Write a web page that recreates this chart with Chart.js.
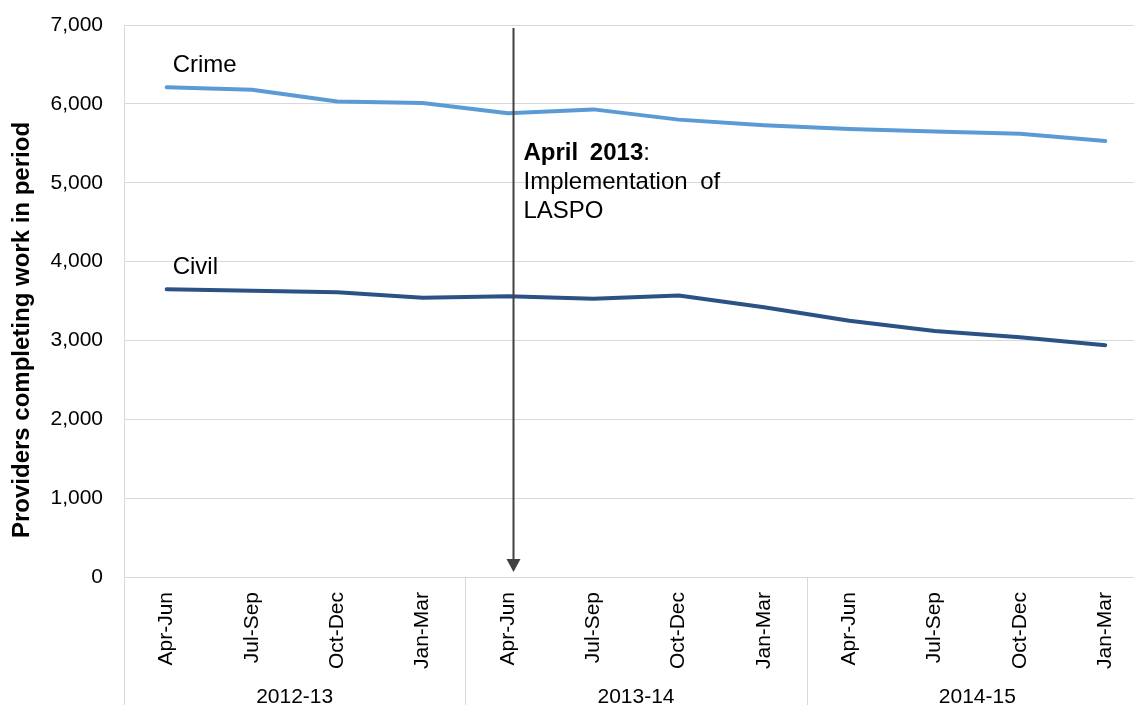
<!DOCTYPE html>
<html>
<head>
<meta charset="utf-8">
<title>Providers completing work in period</title>
<script src="https://cdn.jsdelivr.net/npm/chart.js@4/dist/chart.umd.min.js"></script>
<style>
  html, body { margin: 0; padding: 0; background: #ffffff; overflow: hidden; }
  #wrap { position: absolute; left: 0; top: 0; width: 1150px; height: 705px; }
</style>
</head>
<body>
<div id="wrap"><canvas id="chart" width="1150" height="705"></canvas></div>
<script>
// Quarterly periods, grouped by financial year
const quarters = ['Apr-Jun', 'Jul-Sep', 'Oct-Dec', 'Jan-Mar',
                  'Apr-Jun', 'Jul-Sep', 'Oct-Dec', 'Jan-Mar',
                  'Apr-Jun', 'Jul-Sep', 'Oct-Dec', 'Jan-Mar'];
const years = ['2012-13', '2013-14', '2014-15'];
const quartersPerYear = 4;

// Number of providers completing work in each period
const crime = [6210, 6180, 6030, 6010, 5880, 5930, 5800, 5730, 5680, 5650, 5620, 5530];
const civil = [3650, 3630, 3610, 3540, 3560, 3530, 3570, 3420, 3250, 3120, 3040, 2940];

// Value axis
const yMin = 0;
const yMax = 7000;
const yStep = 1000;

// Policy change marker
const eventIndex = 4;
const eventTitle = ['April', '2013'];
const eventLines = [['Implementation', 'of'], ['LASPO']];

const FONT = '"Liberation Sans", Arial, sans-serif';
const GRID = '#d9d9d9';
const CRIME_COLOR = '#5b9bd5';
const CIVIL_COLOR = '#2c5285';

function drawWords(ctx, words, x, y, extra) {
  let cx = x;
  const space = ctx.measureText(' ').width + extra;
  words.forEach((w, i) => {
    ctx.fillText(w, cx, y);
    cx += ctx.measureText(w).width + (i < words.length - 1 ? space : 0);
  });
  return cx;
}

const decorations = {
  id: 'decorations',
  afterDraw(chart) {
    const ctx = chart.ctx;
    const area = chart.chartArea;
    const xs = chart.scales.x;
    const H = chart.height;
    ctx.save();

    // frame line on the left and year separators below the axis
    ctx.strokeStyle = GRID;
    ctx.lineWidth = 1;
    ctx.beginPath();
    ctx.moveTo(Math.round(area.left) + 0.5, area.top);
    ctx.lineTo(Math.round(area.left) + 0.5, H);
    for (let g = 1; g < years.length; g++) {
      const i = g * quartersPerYear;
      const sx = Math.round((xs.getPixelForValue(i - 1) + xs.getPixelForValue(i)) / 2) + 0.5;
      ctx.moveTo(sx, area.bottom);
      ctx.lineTo(sx, H);
    }
    ctx.stroke();

    // financial year labels
    ctx.fillStyle = '#000';
    ctx.font = '21px ' + FONT;
    ctx.textAlign = 'center';
    ctx.textBaseline = 'middle';
    years.forEach((yr, g) => {
      const a = xs.getPixelForValue(g * quartersPerYear);
      const b = xs.getPixelForValue(g * quartersPerYear + quartersPerYear - 1);
      ctx.fillText(yr, (a + b) / 2, H - 8);
    });

    // value axis title
    ctx.save();
    ctx.translate(22, (area.top + area.bottom) / 2 + 29);
    ctx.rotate(-Math.PI / 2);
    ctx.font = 'bold 24px ' + FONT;
    ctx.textAlign = 'center';
    ctx.textBaseline = 'middle';
    ctx.fillText('Providers completing work in period', 0, 0);
    ctx.restore();

    // event arrow
    const ax = Math.round(xs.getPixelForValue(eventIndex)) + 5.5;
    const tip = area.bottom - 5;
    ctx.strokeStyle = '#404040';
    ctx.fillStyle = '#404040';
    ctx.lineWidth = 2;
    ctx.beginPath();
    ctx.moveTo(ax, area.top + 3);
    ctx.lineTo(ax, tip - 10);
    ctx.stroke();
    ctx.beginPath();
    ctx.moveTo(ax - 7, tip - 13);
    ctx.lineTo(ax + 7, tip - 13);
    ctx.lineTo(ax, tip);
    ctx.closePath();
    ctx.fill();

    // event text
    ctx.fillStyle = '#000';
    ctx.textAlign = 'left';
    ctx.textBaseline = 'alphabetic';
    const tx = ax + 10;
    ctx.font = 'bold 24px ' + FONT;
    const end = drawWords(ctx, eventTitle, tx, 160, 5);
    ctx.font = '24px ' + FONT;
    ctx.fillText(':', end, 160);
    eventLines.forEach((words, i) => drawWords(ctx, words, tx, 189 + i * 29, 6));

    // series names beside the first point of each line
    ctx.font = '24px ' + FONT;
    chart.data.datasets.forEach((ds, di) => {
      const p = chart.getDatasetMeta(di).data[0];
      ctx.fillText(ds.label, p.x + 6, p.y - 15);
    });

    ctx.restore();
  }
};

new Chart(document.getElementById('chart'), {
  type: 'line',
  data: {
    labels: quarters,
    datasets: [
      { label: 'Crime', data: crime, borderColor: CRIME_COLOR, backgroundColor: CRIME_COLOR,
        borderWidth: 4, pointRadius: 0, tension: 0, borderCapStyle: 'round', borderJoinStyle: 'round' },
      { label: 'Civil', data: civil, borderColor: CIVIL_COLOR, backgroundColor: CIVIL_COLOR,
        borderWidth: 4, pointRadius: 0, tension: 0, borderCapStyle: 'round', borderJoinStyle: 'round' }
    ]
  },
  options: {
    responsive: false,
    animation: false,
    events: [],
    layout: { padding: { left: 0, top: 25, right: 2, bottom: 0 } },
    plugins: { legend: { display: false }, tooltip: { enabled: false } },
    scales: {
      x: {
        offset: true,
        grid: { display: false, drawTicks: false },
        border: { display: false },
        ticks: {
          minRotation: 90, maxRotation: 90, padding: 15, autoSkip: false,
          color: '#000', font: { family: FONT, size: 21 }
        },
        afterFit(scale) { scale.height = 128; }
      },
      y: {
        min: yMin, max: yMax,
        grid: { color: GRID, lineWidth: 1, drawTicks: false },
        border: { display: false },
        ticks: {
          stepSize: yStep, padding: 21, color: '#000',
          font: { family: FONT, size: 21 },
          callback: v => v.toLocaleString('en-US')
        },
        afterFit(scale) {
          scale.width = 124;
          scale.paddingTop = 0;
          scale.paddingBottom = 0;
        }
      }
    }
  },
  plugins: [decorations]
});
</script>
</body>
</html>
